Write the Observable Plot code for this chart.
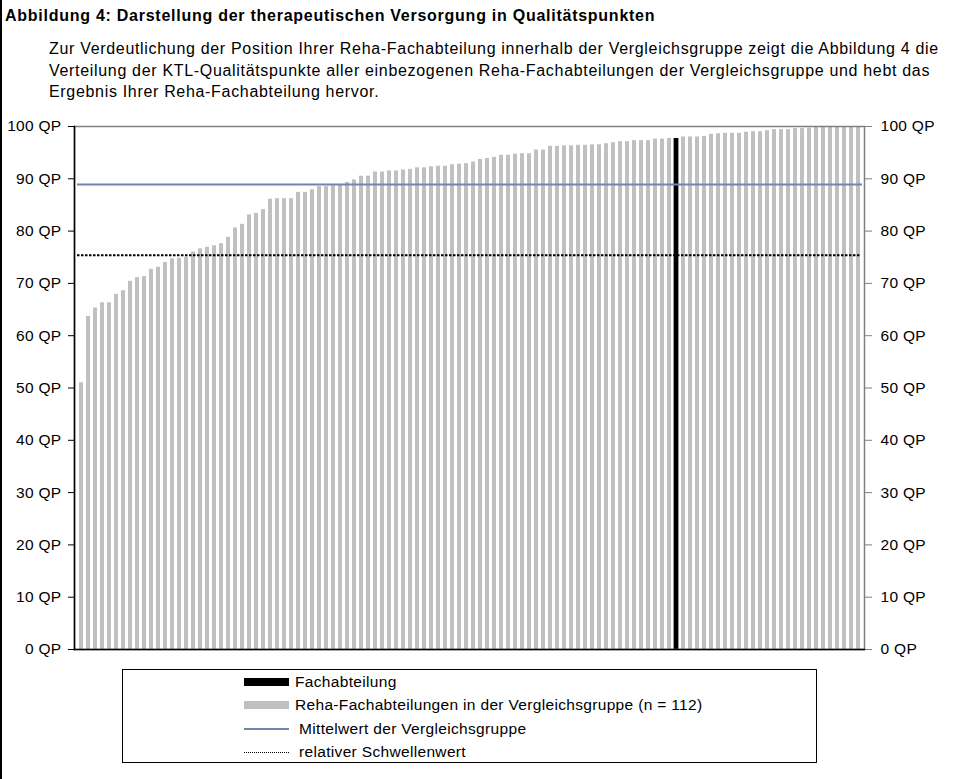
<!DOCTYPE html>
<html>
<head>
<meta charset="utf-8">
<script src="https://cdn.jsdelivr.net/npm/d3@7"></script>
<script src="https://cdn.jsdelivr.net/npm/@observablehq/plot@0.6"></script>
<style>
  html, body { margin: 0; padding: 0; background: #fff; }
  #page { position: relative; width: 980px; height: 779px; overflow: hidden;
          font-family: "Liberation Sans", Arial, sans-serif; color: #000; }
  #border { position: absolute; left: 0; top: 0; width: 1.5px; height: 779px; background: #000; }
  #title { position: absolute; left: 5px; top: 6px; font-weight: bold; font-size: 16px; letter-spacing: 0.74px; white-space: nowrap; line-height: 20px; }
  #subtitle { position: absolute; left: 49px; top: 38px; font-size: 16px; letter-spacing: 0.68px; line-height: 21.5px; white-space: nowrap; }
  #chart { position: absolute; left: 0; top: 100px; }
  #chart svg text { letter-spacing: 0.3px; }
  #legend { position: absolute; left: 122px; top: 669px; width: 693px; height: 92px; border: 1px solid #000; }
  .row { position: absolute; left: 0; height: 20px; width: 100%; }
  .sw { position: absolute; left: 121px; }
  .lab { position: absolute; font-size: 15.5px; letter-spacing: 0.33px; white-space: nowrap; line-height: 20px; top: 0; }
</style>
</head>
<body>
<div id="page">
  <div id="border"></div>
  <div id="title"></div>
  <div id="subtitle"></div>
  <div id="chart"></div>
  <div id="legend"></div>
</div>
<script>
// ---- data ----
const titleText = "Abbildung 4: Darstellung der therapeutischen Versorgung in Qualitätspunkten";
const subtitleLines = [
  "Zur Verdeutlichung der Position Ihrer Reha-Fachabteilung innerhalb der Vergleichsgruppe zeigt die Abbildung 4 die",
  "Verteilung der KTL-Qualitätspunkte aller einbezogenen Reha-Fachabteilungen der Vergleichsgruppe und hebt das",
  "Ergebnis Ihrer Reha-Fachabteilung hervor."
];
const qpValues = [
  51.0, 63.7, 65.3, 66.3, 66.3, 67.9, 68.6, 70.4, 71.1, 71.3,
  72.7, 73.1, 74.0, 74.7, 74.8, 75.0, 76.0, 76.6, 76.9, 77.2,
  77.6, 78.8, 80.6, 81.3, 83.1, 83.4, 84.1, 86.1, 86.2, 86.2,
  86.2, 87.4, 87.4, 87.9, 88.5, 88.5, 88.7, 88.8, 89.3, 89.8,
  90.5, 90.5, 91.3, 91.3, 91.5, 91.5, 91.7, 91.8, 92.1, 92.1,
  92.3, 92.4, 92.4, 92.7, 92.8, 92.9, 93.2, 93.7, 93.9, 94.1,
  94.5, 94.5, 94.7, 94.8, 94.8, 95.5, 95.5, 96.2, 96.2, 96.3,
  96.3, 96.4, 96.4, 96.5, 96.5, 96.7, 96.9, 97.1, 97.1, 97.3,
  97.3, 97.3, 97.6, 97.6, 97.7, 97.7, 98.0, 98.0, 98.0, 98.1,
  98.5, 98.6, 98.7, 98.7, 98.7, 98.9, 99.0, 99.0, 99.2, 99.4,
  99.4, 99.4, 99.6, 99.6, 99.7, 99.8, 99.9, 100, 100, 100,
  100, 100
];
const ownRank = 86;          // position of "Fachabteilung" (black bar)
const meanValue = 88.9;      // Mittelwert der Vergleichsgruppe
const thresholdValue = 75.4; // relativer Schwellenwert
const yTicks = [0, 10, 20, 30, 40, 50, 60, 70, 80, 90, 100];
const legendLabels = [
  "Fachabteilung",
  "Reha-Fachabteilungen in der Vergleichsgruppe (n = 112)",
  "Mittelwert der Vergleichsgruppe",
  "relativer Schwellenwert"
];
const colors = { bar: "#c0c0c0", own: "#000000", mean: "#6a88b0", threshold: "#000000", frame: "#808080" };

// ---- build ----
document.getElementById("title").textContent = titleText;
document.getElementById("subtitle").innerHTML = subtitleLines.map(s => s.replace(/&/g, "&amp;")).join("<br>");

const rows = qpValues.map((v, i) => ({ rank: i + 1, value: v }));
const own = rows.filter(d => d.rank === ownRank);
const fmt = d => d + " QP";

const chart = Plot.plot({
  width: 980,
  height: 570,
  marginLeft: 74,
  marginRight: 116,
  marginTop: 26,
  marginBottom: 21,
  style: { fontFamily: "'Liberation Sans', Arial, sans-serif", fontSize: "15.5px", color: "#000", background: "transparent" },
  x: { type: "band", domain: rows.map(d => d.rank), paddingInner: 0.46, paddingOuter: 0.2, axis: null },
  y: { domain: [0, 100], axis: null },
  marks: [
    Plot.barY(rows, { x: "rank", y: "value", fill: colors.bar }),
    Plot.barY(own, { x: "rank", y: "value", fill: colors.own, insetLeft: -0.4, insetRight: -0.4 }),
    Plot.ruleY([thresholdValue], { stroke: colors.threshold, strokeWidth: 2, strokeDasharray: "2.5,1.5", insetLeft: 3, insetRight: 3 }),
    Plot.ruleY([meanValue], { stroke: colors.mean, strokeWidth: 2, insetLeft: 3, insetRight: 2 }),
    Plot.frame({ stroke: colors.frame, strokeWidth: 1.5 }),
    Plot.frame({ anchor: "left", stroke: "#000", strokeWidth: 1.5 }),
    Plot.frame({ anchor: "bottom", stroke: "#000", strokeWidth: 1.5 }),
    Plot.axisY({ anchor: "left", ticks: yTicks, tickFormat: fmt, tickSize: 6, tickPadding: 7, stroke: "#000", fill: "#000", label: null }),
    Plot.axisY({ anchor: "right", ticks: yTicks, tickFormat: fmt, tickSize: 7, tickPadding: 9, stroke: colors.frame, fill: "#000", label: null })
  ]
});
document.getElementById("chart").appendChild(chart);

// ---- legend ----
const legend = document.getElementById("legend");
const centers = [11.7, 35.3, 58.7, 82];
const swatches = [
  { h: 8, bg: colors.own, textLeft: 172 },
  { h: 8, bg: colors.bar, textLeft: 172 },
  { h: 2, bg: colors.mean, textLeft: 176 },
  { dotted: true, textLeft: 176 }
];
legendLabels.forEach((lab, i) => {
  const row = document.createElement("div");
  row.className = "row";
  row.style.top = (centers[i] - 10) + "px";
  const sw = document.createElement("div");
  sw.className = "sw";
  const s = swatches[i];
  sw.style.width = "45px";
  if (s.dotted) {
    sw.style.top = "9.5px";
    sw.style.height = "0";
    sw.style.borderTop = "1.5px dotted " + colors.threshold;
  } else {
    sw.style.height = s.h + "px";
    sw.style.top = (10 - s.h / 2) + "px";
    sw.style.background = s.bg;
  }
  const t = document.createElement("div");
  t.className = "lab";
  t.style.left = s.textLeft + "px";
  t.textContent = lab;
  row.appendChild(sw);
  row.appendChild(t);
  legend.appendChild(row);
});
</script>
</body>
</html>
